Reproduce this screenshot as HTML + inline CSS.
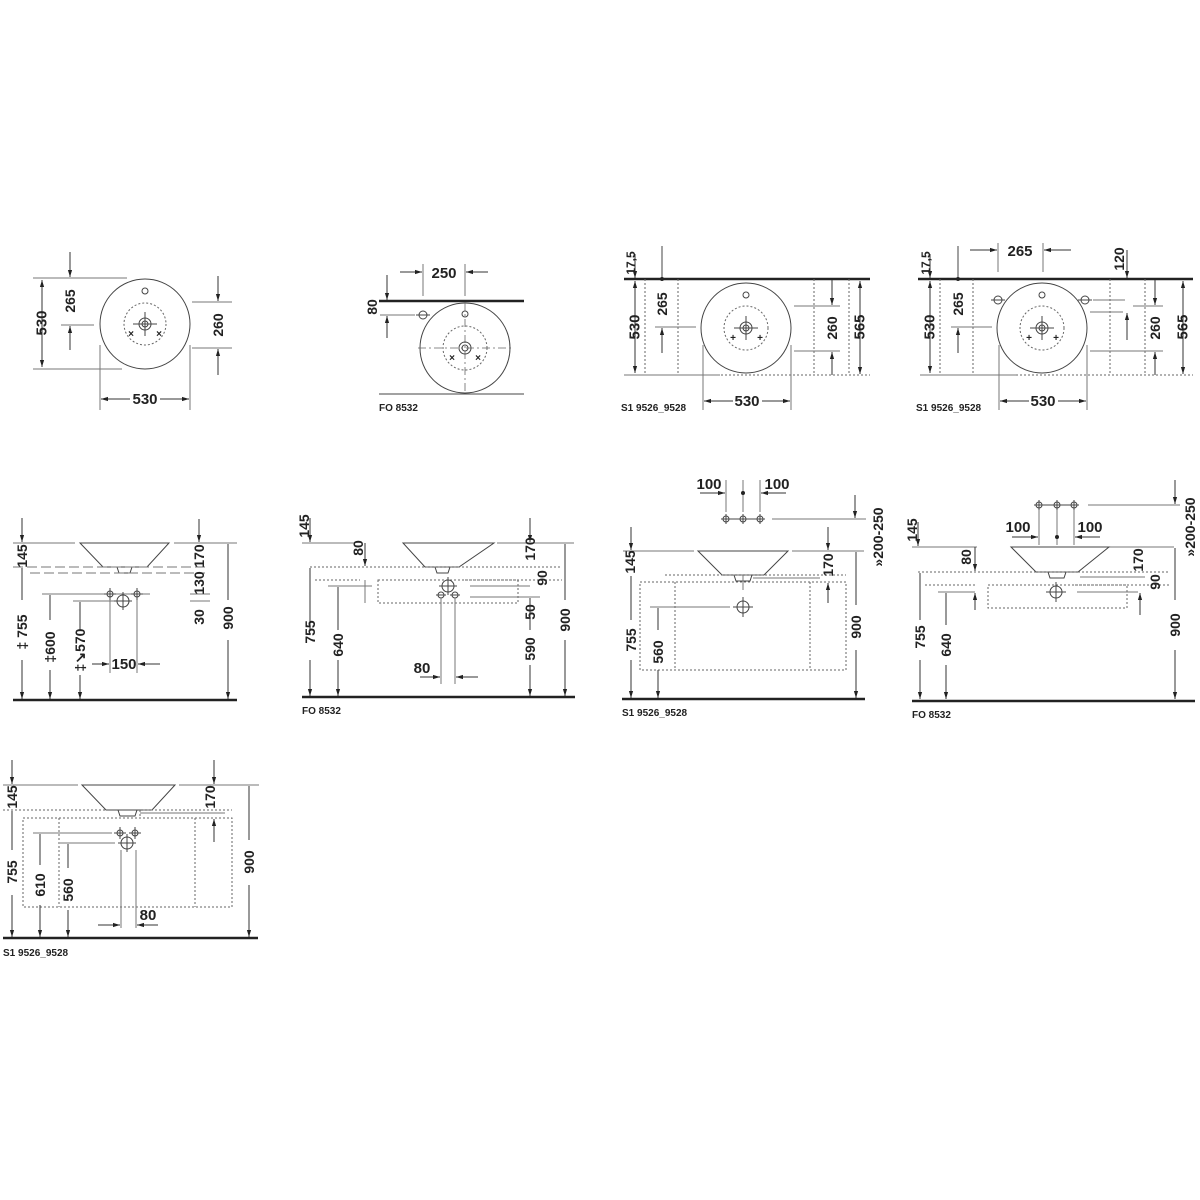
<!DOCTYPE html>
<html><head><meta charset="utf-8"><style>
html,body{margin:0;padding:0;background:#fff}
svg{display:block}
text{font-family:"Liberation Sans Narrow","Liberation Sans",sans-serif;font-weight:bold;font-size:14px;fill:#222}
.s{font-size:10px}
.l{stroke:#444;stroke-width:1;fill:none}
.g{stroke:#777;stroke-width:1;fill:none}
.t{stroke:#222;stroke-width:2.5;fill:none}
.d{stroke:#666;stroke-width:1;fill:none;stroke-dasharray:2 2}
.dl{stroke:#777;stroke-width:1;fill:none;stroke-dasharray:10 4}
.c{stroke:#666;stroke-width:.8;fill:none;stroke-dasharray:8 3 2 3}
.a{stroke:#333;stroke-width:1;fill:none;marker-end:url(#ar)}
.v{text-anchor:middle;dominant-baseline:central}
</style></head><body>
<svg width="1200" height="1200" viewBox="0 0 1200 1200" xmlns="http://www.w3.org/2000/svg">
<defs><marker id="ar" viewBox="0 0 10 10" refX="10" refY="5" markerWidth="7" markerHeight="7" orient="auto"><path d="M0,2 L10,5 L0,8 z" fill="#222"/></marker></defs>

<!-- Panel A -->
<g>
<circle cx="145" cy="324" r="45" class="l"/>
<circle cx="145" cy="291" r="3" class="l"/>
<circle cx="145" cy="324" r="21" class="d"/>
<circle cx="145" cy="324" r="6" class="l"/><circle cx="145" cy="324" r="3" class="l"/>
<path d="M133,324H157M145,312V336" class="l"/>
<text x="131" y="337" class="s" text-anchor="middle">×</text><text x="159" y="337" class="s" text-anchor="middle">×</text>
<path d="M33,278H127M33,369H122" class="g"/>
<path d="M42,323V280" class="a"/><path d="M42,323V367" class="a"/>
<text transform="translate(42,323) rotate(-90)" class="v" style="font-size:15px">530</text>
<path d="M70,252V277" class="a"/><path d="M70,350V326" class="a"/><path d="M61,325H94" class="g"/>
<text transform="translate(70,301) rotate(-90)" class="v">265</text>
<path d="M192,302H232M192,348H232" class="g"/>
<path d="M218,276V301" class="a"/><path d="M218,375V349" class="a"/>
<text transform="translate(218,325) rotate(-90)" class="v">260</text>
<path d="M100,345V410M190,345V410" class="g"/>
<path d="M130,399H101" class="a"/><path d="M160,399H189" class="a"/>
<text x="145" y="404" text-anchor="middle" style="font-size:15px">530</text>
</g>

<!-- Panel B -->
<g>
<path d="M379,301H524" class="t"/>
<path d="M379,394H524" class="l"/>
<circle cx="465" cy="348" r="45" class="l"/>
<circle cx="465" cy="314" r="3" class="l"/>
<circle cx="465" cy="348" r="22" class="d"/>
<path d="M418,348H513M465,303V393" class="c"/>
<circle cx="465" cy="348" r="6" class="l"/><circle cx="465" cy="348" r="3" class="l"/>
<text x="452" y="361" class="s" text-anchor="middle">×</text><text x="478" y="361" class="s" text-anchor="middle">×</text>
<circle cx="423" cy="315" r="4" class="l"/><path d="M416,315H430" class="l"/>
<path d="M423,264V296M465,264V296" class="g"/>
<path d="M400,272H422" class="a"/><path d="M488,272H466" class="a"/>
<text x="444" y="278" text-anchor="middle" style="font-size:15px">250</text>
<path d="M387,275V300" class="a"/><path d="M387,338V316" class="a"/><path d="M380,315H415" class="g"/>
<text transform="translate(372,307) rotate(-90)" class="v">80</text>
<text x="379" y="411" class="s">FO 8532</text>
</g>

<!-- Panel C -->
<g>
<path d="M624,279H870" class="t"/>
<circle cx="746" cy="328" r="45" class="l"/>
<circle cx="746" cy="295" r="3" class="l"/>
<circle cx="746" cy="328" r="22" class="d"/>
<circle cx="746" cy="328" r="6" class="l"/><circle cx="746" cy="328" r="3" class="l"/>
<path d="M734,328H758M746,316V340" class="l"/>
<text x="733" y="341" class="s" text-anchor="middle">+</text><text x="760" y="341" class="s" text-anchor="middle">+</text>
<path d="M645,279V375M678,279V375M814,279V375M849,279V375M645,375H870" class="d"/>
<path d="M624,375H720" class="g"/>
<path d="M635,327V281" class="a"/><path d="M635,327V373" class="a"/>
<text transform="translate(635,327) rotate(-90)" class="v" style="font-size:15px">530</text>
<path d="M635,254V278" class="a"/>
<text transform="translate(631,263) rotate(-90)" class="v" style="font-size:12px">17,5</text>
<path d="M662,246V279" class="l"/><circle cx="662" cy="279" r="2" fill="#222"/>
<text transform="translate(662,304) rotate(-90)" class="v">265</text>
<path d="M655,327H696" class="g"/><path d="M662,353V328" class="a"/>
<path d="M794,306H840M794,351H840" class="g"/>
<path d="M832,280V305" class="a"/><path d="M832,375V352" class="a"/>
<text transform="translate(832,328) rotate(-90)" class="v">260</text>
<path d="M860,327V281" class="a"/><path d="M860,327V374" class="a"/>
<text transform="translate(860,327) rotate(-90)" class="v" style="font-size:15px">565</text>
<path d="M703,345V410M791,345V410" class="g"/>
<path d="M733,401H704" class="a"/><path d="M762,401H790" class="a"/>
<text x="747" y="406" text-anchor="middle" style="font-size:15px">530</text>
<text x="621" y="411" class="s">S1 9526_9528</text>
</g>

<!-- Panel D -->
<g>
<path d="M918,279H1193" class="t"/>
<circle cx="1042" cy="328" r="45" class="l"/>
<circle cx="1042" cy="295" r="3" class="l"/>
<circle cx="1042" cy="328" r="22" class="d"/>
<circle cx="1042" cy="328" r="6" class="l"/><circle cx="1042" cy="328" r="3" class="l"/>
<path d="M1030,328H1054M1042,316V340" class="l"/>
<text x="1029" y="341" class="s" text-anchor="middle">+</text><text x="1056" y="341" class="s" text-anchor="middle">+</text>
<circle cx="998" cy="300" r="4" class="l"/><circle cx="1085" cy="300" r="4" class="l"/>
<path d="M991,300H1005M1078,300H1092" class="l"/>
<path d="M940,279V375M973,279V375M1110,279V375M1145,279V375M940,375H1193" class="d"/>
<path d="M920,375H1016" class="g"/>
<path d="M930,327V281" class="a"/><path d="M930,327V373" class="a"/>
<text transform="translate(930,327) rotate(-90)" class="v" style="font-size:15px">530</text>
<path d="M930,254V278" class="a"/>
<text transform="translate(926,263) rotate(-90)" class="v" style="font-size:12px">17,5</text>
<path d="M958,246V279" class="l"/><circle cx="958" cy="279" r="2" fill="#222"/>
<text transform="translate(958,304) rotate(-90)" class="v">265</text>
<path d="M951,327H992" class="g"/><path d="M958,353V328" class="a"/>
<path d="M998,243V272M1043,243V272" class="g"/>
<path d="M970,250H997" class="a"/><path d="M1071,250H1044" class="a"/>
<text x="1020" y="256" text-anchor="middle" style="font-size:15px">265</text>
<path d="M1127,250V278" class="a"/>
<text transform="translate(1119,259) rotate(-90)" class="v">120</text>
<path d="M1093,300H1125M1090,312H1123" class="g"/><path d="M1127,340V313" class="a"/>
<path d="M1133,306H1163M1090,351H1163" class="g"/>
<path d="M1155,280V305" class="a"/><path d="M1155,375V352" class="a"/>
<text transform="translate(1155,328) rotate(-90)" class="v">260</text>
<path d="M1183,327V281" class="a"/><path d="M1183,327V374" class="a"/>
<text transform="translate(1183,327) rotate(-90)" class="v" style="font-size:15px">565</text>
<path d="M999,345V410M1087,345V410" class="g"/>
<path d="M1029,401H1000" class="a"/><path d="M1058,401H1086" class="a"/>
<text x="1043" y="406" text-anchor="middle" style="font-size:15px">530</text>
<text x="916" y="411" class="s">S1 9526_9528</text>
</g>

<!-- Panel E -->
<g>
<path d="M13,543H75M174,543H237" class="g"/>
<path d="M80,543H169L147,567H103Z" class="l"/>
<path d="M117,567H132L130,573H119Z" class="l" fill="#999"/>
<path d="M13,567H205M30,573H205" class="dl"/>
<path d="M22,518V542" class="a"/>
<text transform="translate(22,556) rotate(-90)" class="v">145</text>
<path d="M22,600V568M22,660V699" class="a"/>
<text transform="translate(22,632) rotate(-90)" class="v">‡ 755</text>
<path d="M42,594H110M73,601H115M115,594H150" class="g"/>
<path d="M50,620V595M50,670V699" class="a"/>
<text transform="translate(50,647) rotate(-90)" class="v">‡600</text>
<path d="M80,630V602M80,675V699" class="a"/>
<text transform="translate(80,650) rotate(-90)" class="v">‡↘570</text>
<circle cx="110" cy="594" r="3" class="l"/><circle cx="137" cy="594" r="3" class="l"/>
<path d="M104,594H116M110,588V600M131,594H143M137,588V600" class="l"/>
<circle cx="123" cy="601" r="6" class="l"/><path d="M114,601H132M123,592V610" class="l"/>
<path d="M110,600V673M137,600V673" class="g"/>
<path d="M92,664H109" class="a"/><path d="M160,664H138" class="a"/>
<text x="124" y="669" text-anchor="middle" style="font-size:15px">150</text>
<path d="M199,519V542" class="a"/>
<text transform="translate(199,556) rotate(-90)" class="v">170</text>
<path d="M190,594H210M190,601H210" class="g"/>
<text transform="translate(199,583) rotate(-90)" class="v">130</text>
<text transform="translate(199,617) rotate(-90)" class="v">30</text>
<path d="M228,600V544M228,640V699" class="a"/>
<text transform="translate(228,618) rotate(-90)" class="v">900</text>
<path d="M13,700H237" class="t"/>
</g>

<!-- Panel F -->
<g>
<path d="M302,543H354M497,543H574" class="g"/>
<path d="M403,543H494L459,567H425Z" class="l"/>
<path d="M435,567H450L448,573H437Z" class="l" fill="#999"/>
<path d="M310,567H562M315,580H360M465,580H562" class="d"/>
<path d="M378,580H518V603H378Z" class="d"/>
<path d="M310,518V542" class="a"/>
<text transform="translate(304,526) rotate(-90)" class="v">145</text>
<path d="M365,543V566" class="a"/>
<text transform="translate(358,548) rotate(-90)" class="v">80</text>
<path d="M310,630V568M310,660V696" class="a"/>
<text transform="translate(310,632) rotate(-90)" class="v">755</text>
<path d="M328,586H372M470,586H530M470,597H540" class="g"/>
<path d="M338,630V587M338,660V696" class="a"/>
<text transform="translate(338,645) rotate(-90)" class="v">640</text>
<path d="M365,580V603" class="g"/>
<circle cx="448" cy="586" r="6" class="l"/><path d="M439,586H457M448,577V595" class="l"/>
<circle cx="441" cy="595" r="3" class="l"/><circle cx="455" cy="595" r="3" class="l"/>
<path d="M436,595H446M450,595H460" class="l"/>
<path d="M441,598V684M455,598V684" class="g"/>
<path d="M420,677H440" class="a"/><path d="M478,677H456" class="a"/>
<text x="422" y="673" text-anchor="middle" style="font-size:15px">80</text>
<path d="M530,518V542" class="a"/>
<text transform="translate(530,549) rotate(-90)" class="v">170</text>
<text transform="translate(542,578) rotate(-90)" class="v">90</text>
<text transform="translate(530,612) rotate(-90)" class="v">50</text>
<path d="M530,630V598M530,665V696" class="a"/>
<text transform="translate(530,649) rotate(-90)" class="v">590</text>
<path d="M565,600V544M565,640V696" class="a"/>
<text transform="translate(565,620) rotate(-90)" class="v">900</text>
<path d="M302,697H575" class="t"/>
<text x="302" y="714" class="s">FO 8532</text>
</g>

<!-- Panel G -->
<g>
<path d="M623,551H694M792,551H864" class="g"/>
<path d="M698,551H788L764,575H722Z" class="l"/>
<path d="M734,575H752L750,581H736Z" class="l" fill="#999"/>
<circle cx="726" cy="519" r="3" class="l"/><circle cx="743" cy="519" r="3" class="l"/><circle cx="760" cy="519" r="3" class="l"/>
<path d="M721,519H765M726,514V524M743,514V524M760,514V524" class="l"/>
<path d="M726,480V512M743,480V512M760,480V512" class="g"/>
<circle cx="743" cy="493" r="2" fill="#222"/>
<path d="M700,493H725" class="a"/><path d="M786,493H761" class="a"/>
<text x="709" y="489" text-anchor="middle" style="font-size:15px">100</text>
<text x="777" y="489" text-anchor="middle" style="font-size:15px">100</text>
<path d="M772,519H866" class="g"/>
<path d="M855,495V518" class="a"/>
<text transform="translate(878,537) rotate(-90)" class="v">»200-250</text>
<path d="M631,527V550" class="a"/>
<text transform="translate(630,562) rotate(-90)" class="v">145</text>
<path d="M665,575H846" class="d"/>
<path d="M640,582H846V670H640Z M675,582V670 M810,582V670" class="d"/>
<path d="M631,620V576M631,660V698" class="a"/>
<text transform="translate(631,640) rotate(-90)" class="v">755</text>
<path d="M828,527V550" class="a"/>
<text transform="translate(828,565) rotate(-90)" class="v">170</text>
<path d="M828,603V583" class="a"/>
<path d="M753,578H820" class="g"/>
<circle cx="743" cy="607" r="6" class="l"/><path d="M733,607H753M743,597V617" class="l"/>
<path d="M650,607H730" class="g"/>
<path d="M658,630V608M658,670V698" class="a"/>
<text transform="translate(658,652) rotate(-90)" class="v">560</text>
<path d="M743,575V590" class="g"/>
<path d="M856,605V552M856,650V698" class="a"/>
<text transform="translate(856,627) rotate(-90)" class="v">900</text>
<path d="M622,699H865" class="t"/>
<text x="622" y="716" class="s">S1 9526_9528</text>
</g>

<!-- Panel H -->
<g>
<path d="M912,547H977M1107,547H1174" class="g"/>
<path d="M1011,547H1109L1078,572H1036Z" class="l"/>
<path d="M1048,572H1066L1064,578H1050Z" class="l" fill="#999"/>
<circle cx="1039" cy="505" r="3" class="l"/><circle cx="1057" cy="505" r="3" class="l"/><circle cx="1074" cy="505" r="3" class="l"/>
<path d="M1034,505H1079M1039,500V510M1057,500V510M1074,500V510" class="l"/>
<path d="M1088,505H1180" class="g"/>
<path d="M1175,480V504" class="a"/>
<text transform="translate(1190,527) rotate(-90)" class="v">»200-250</text>
<path d="M1039,510V545M1057,510V545M1074,510V545" class="g"/>
<circle cx="1057" cy="537" r="2" fill="#222"/>
<path d="M1012,537H1038" class="a"/><path d="M1100,537H1075" class="a"/>
<text x="1018" y="532" text-anchor="middle" style="font-size:15px">100</text>
<text x="1090" y="532" text-anchor="middle" style="font-size:15px">100</text>
<path d="M918,522V546" class="a"/>
<text transform="translate(912,530) rotate(-90)" class="v">145</text>
<path d="M975,547V571" class="a"/>
<text transform="translate(966,557) rotate(-90)" class="v">80</text>
<path d="M918,572H1170M925,585H975M1075,585H1170" class="d"/>
<path d="M988,585H1127V608H988Z" class="d"/>
<path d="M938,592H975M1077,592H1138M1080,577H1145" class="g"/>
<circle cx="1056" cy="592" r="6" class="l"/><path d="M1046,592H1066M1056,582V602" class="l"/>
<text transform="translate(1138,560) rotate(-90)" class="v">170</text>
<text transform="translate(1155,582) rotate(-90)" class="v">90</text>
<path d="M1140,615V593" class="a"/>
<path d="M975,610V593" class="a"/>
<path d="M920,620V573M920,660V699" class="a"/>
<text transform="translate(920,637) rotate(-90)" class="v">755</text>
<path d="M946,625V593M946,665V699" class="a"/>
<text transform="translate(946,645) rotate(-90)" class="v">640</text>
<path d="M1175,600V548M1175,650V699" class="a"/>
<text transform="translate(1175,625) rotate(-90)" class="v">900</text>
<path d="M912,701H1195" class="t"/>
<text x="912" y="718" class="s">FO 8532</text>
</g>

<!-- Panel I -->
<g>
<path d="M3,785H78M179,785H259" class="g"/>
<path d="M82,785H175L152,810H106Z" class="l"/>
<path d="M118,810H137L135,816H120Z" class="l" fill="#999"/>
<path d="M3,810H106M143,810H232M140,810V818" class="d"/>
<path d="M23,818H232V907H23Z M59,818V907 M195,818V907" class="d"/>
<path d="M12,760V784" class="a"/>
<text transform="translate(12,797) rotate(-90)" class="v">145</text>
<path d="M12,850V811M12,895V937" class="a"/>
<text transform="translate(12,872) rotate(-90)" class="v">755</text>
<path d="M214,760V784" class="a"/>
<text transform="translate(210,797) rotate(-90)" class="v">170</text>
<path d="M214,842V819" class="a"/>
<path d="M140,813H225" class="g"/>
<path d="M249,840V786M249,885V937" class="a"/>
<text transform="translate(249,862) rotate(-90)" class="v">900</text>
<circle cx="120" cy="833" r="3" class="l"/><circle cx="135" cy="833" r="3" class="l"/>
<path d="M114,833H126M120,827V839M129,833H141M135,827V839" class="l"/>
<circle cx="127" cy="843" r="6" class="l"/><path d="M118,843H136M127,834V852" class="l"/>
<path d="M33,833H112M60,843H115" class="g"/>
<path d="M40,865V834M40,905V937" class="a"/>
<text transform="translate(40,885) rotate(-90)" class="v">610</text>
<path d="M68,868V844M68,910V937" class="a"/>
<text transform="translate(68,890) rotate(-90)" class="v">560</text>
<path d="M121,850V928M136,850V928" class="g"/>
<path d="M98,925H120" class="a"/><path d="M158,925H137" class="a"/>
<text x="148" y="920" text-anchor="middle" style="font-size:15px">80</text>
<path d="M3,938H258" class="t"/>
<text x="3" y="956" class="s">S1 9526_9528</text>
</g>
</svg>
</body></html>
